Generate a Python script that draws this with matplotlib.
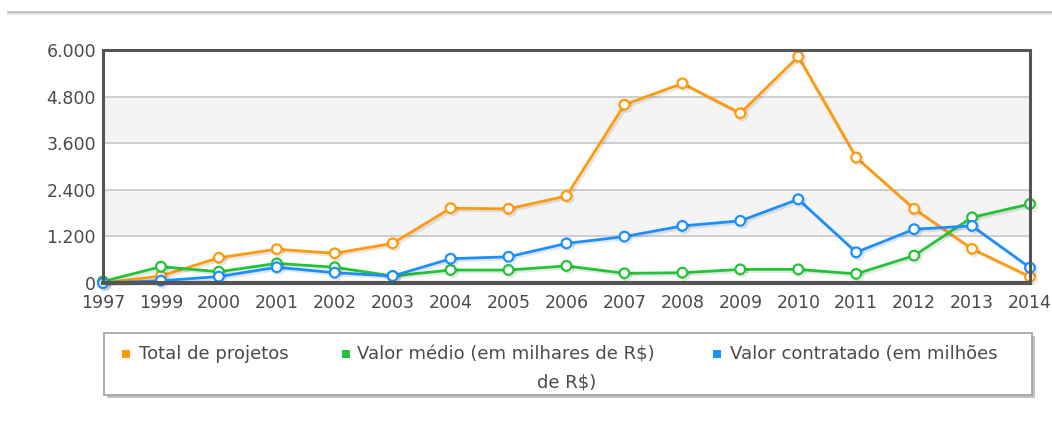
import matplotlib
matplotlib.use("Agg")
import matplotlib.pyplot as plt
import matplotlib.patheffects as pe
from matplotlib.patches import Rectangle
from matplotlib.lines import Line2D

years = ["1997", "1999", "2000", "2001", "2002", "2003", "2004", "2005", "2006",
         "2007", "2008", "2009", "2010", "2011", "2012", "2013", "2014"]
total_projetos = [0, 180, 650, 870, 765, 1020, 1925, 1910, 2240,
                  4590, 5140, 4370, 5830, 3230, 1910, 880, 160]
valor_medio = [40, 420, 290, 505, 405, 180, 335, 335, 440,
               250, 265, 350, 350, 235, 705, 1690, 2035]
valor_contratado = [0, 60, 165, 405, 265, 180, 625, 675, 1020,
                    1195, 1470, 1600, 2155, 790, 1385, 1470, 395]
y_ticks = [0, 1200, 2400, 3600, 4800, 6000]
y_tick_labels = ["0", "1.200", "2.400", "3.600", "4.800", "6.000"]

series = [
    ("Total de projetos", total_projetos, "#FF9A0D"),
    ("Valor médio (em milhares de R$)", valor_medio, "#22C437"),
    ("Valor contratado (em milhões de R$)", valor_contratado, "#1A90FF"),
]


def main():
    fig = plt.figure(figsize=(10.52, 4.23), dpi=100)
    ax = fig.add_axes([103 / 1052, 1 - 283 / 423, 927 / 1052, 233 / 423])

    x = list(range(len(years)))
    for i in range(1, len(y_ticks) - 1, 2):
        ax.axhspan(y_ticks[i], y_ticks[i + 1], color="#f4f4f4", zorder=0)
    for t in y_ticks[1:-1]:
        ax.axhline(t, color="#c8c8c8", lw=1.2, zorder=1)

    for z, (name, vals, col) in enumerate(series):
        ax.plot(x, vals, color=col, lw=2.0, marker="o", ms=7, mfc="white",
                mec=col, mew=1.6, zorder=3 + z, clip_on=False,
                path_effects=[pe.SimpleLineShadow(offset=(1.5, -1.5), alpha=0.1),
                              pe.Normal()])

    ax.set_xlim(0, len(years) - 1)
    ax.set_ylim(0, 6000)
    ax.set_xticks(x)
    ax.set_xticklabels(years)
    ax.set_yticks(y_ticks)
    ax.set_yticklabels(y_tick_labels)
    ax.tick_params(length=0, labelsize=12.5, colors="#4a4a4a", pad=5)
    ax.tick_params(axis="x", pad=8)
    for s in ax.spines.values():
        s.set_color("#555555")
        s.set_linewidth(2.2)
        s.set_zorder(6)
    ax.spines["bottom"].set_linewidth(3)

    # linha separadora no topo
    fig.add_artist(Line2D([8 / 1052, 1], [1 - 12 / 423] * 2, color="#b5b5b5", lw=1.8))
    fig.add_artist(Line2D([8 / 1052, 1], [1 - 14.5 / 423] * 2, color="#e6e6e6", lw=1.5))

    # caixa da legenda
    W, H = 1052, 423
    bx, by, bw, bh = 104, 333, 928, 62
    fig.add_artist(Rectangle(((bx + 3) / W, 1 - (by + bh + 3) / H), bw / W, bh / H,
                             transform=fig.transFigure, facecolor="#9a9a9a",
                             edgecolor="none", alpha=0.6))
    fig.add_artist(Rectangle((bx / W, 1 - (by + bh) / H), bw / W, bh / H,
                             transform=fig.transFigure, facecolor="white",
                             edgecolor="#a0a0a0", lw=1.2))
    items = [(126, 139, series[0][0], series[0][2]),
             (346, 357, "Valor médio (em milhares de R$)", series[1][2]),
             (717, 730, "Valor contratado (em milhões", series[2][2])]
    for sx, tx, label, col in items:
        fig.add_artist(Rectangle(((sx - 4) / W, 1 - (354 + 4) / H), 8 / W, 8 / H,
                                 transform=fig.transFigure, facecolor=col,
                                 edgecolor="none"))
        fig.text(tx / W, 1 - 354 / H, label, fontsize=13, color="#4a4a4a",
                 va="center", ha="left")
    fig.text(567 / W, 1 - 382 / H, "de R$)", fontsize=13, color="#4a4a4a",
             va="center", ha="center")

    fig.savefig("out.png", dpi=100)


if __name__ == "__main__":
    main()
